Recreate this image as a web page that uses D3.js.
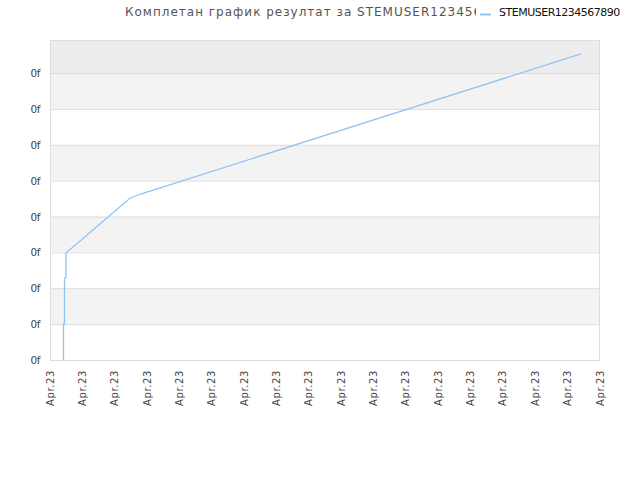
<!DOCTYPE html>
<html><head><meta charset="utf-8">
<script src="https://cdn.jsdelivr.net/npm/d3@7"></script>
<style>body{margin:0;background:#fff}svg{display:block;font-family:"DejaVu Sans",sans-serif}</style>
</head><body><svg id="c" width="640" height="480"></svg>
<script>
const title = "Комплетан график резултат за STEMUSER1234567890";
const seriesName = "STEMUSER1234567890";
// x: days since start of period, y: score
const xDays = [0.736, 0.736, 0.736, 0.79, 0.79, 0.87, 0.87, 4.36, 4.9, 28.96];
const yVals = [0, 0.5, 1.0, 1.0, 2.28, 2.3, 2.98, 4.51, 4.62, 8.53];
const yTickValues = [0,1,2,3,4,5,6,7,8];
const yTickLabel = "0f";
const xTickLabel = "Apr.23";
const xTickCount = 18;

const svg = d3.select("#c");
const L=50,R=600,T=40,B=360;
const x = d3.scaleLinear().domain([0,30]).range([L,R]);
const y = d3.scaleLinear().domain([0,8.92]).range([B,T]);

// bands
const bandEdges = yTickValues.concat([8.92]);
for (let i=0;i<bandEdges.length-1;i++){
  let fill = (i===bandEdges.length-2) ? "#ededed" : (i%2===1 ? "#f3f3f3" : "#ffffff");
  svg.append("rect").attr("x",L).attr("y",y(bandEdges[i+1])).attr("width",R-L)
    .attr("height",y(bandEdges[i])-y(bandEdges[i+1])).attr("fill",fill);
}
// grid
svg.selectAll("line.g").data(yTickValues.slice(1)).enter().append("line")
  .attr("x1",L).attr("x2",R).attr("y1",d=>y(d)+0.5).attr("y2",d=>y(d)+0.5)
  .attr("stroke","#dddddd");
// frame
svg.append("rect").attr("x",L+0.5).attr("y",T+0.5).attr("width",R-L-1).attr("height",B-T)
  .attr("fill","none").attr("stroke","#dddddd");

// line
const pts = xDays.map((d,i)=>[d,yVals[i]]);
svg.append("path").datum(pts).attr("fill","none").attr("stroke","#90c4f5").attr("stroke-width",1.3)
  .attr("d", d3.line().x(d=>x(d[0])).y(d=>y(d[1])));

// y labels
svg.selectAll("text.yl").data(yTickValues).enter().append("text")
  .attr("x",40).attr("y",d=>y(d)+4).attr("text-anchor","end")
  .attr("font-size",10.5).attr("fill","#444").attr("letter-spacing","-0.5").text(yTickLabel);

// x labels
const xt = d3.range(xTickCount).map(i=>i*30/(xTickCount-1));
svg.selectAll("text.xl").data(xt).enter().append("text")
  .attr("transform",d=>`translate(${x(d)+3.5},370) rotate(-90)`)
  .attr("text-anchor","end").attr("font-size",10).attr("letter-spacing","0.6")
  .attr("fill","#444").text(xTickLabel);

// title
svg.append("text").attr("x",125).attr("y",16).attr("font-size",12).attr("fill","#555")
  .attr("letter-spacing","1").text(title);
// legend
svg.append("rect").attr("x",476).attr("y",0).attr("width",164).attr("height",26).attr("fill","#fff");
svg.append("line").attr("x1",480).attr("x2",491).attr("y1",14.5).attr("y2",14.5)
  .attr("stroke","#90c4f5").attr("stroke-width",2);
svg.append("text").attr("x",499).attr("y",16).attr("font-size",11).attr("fill","#111")
  .attr("letter-spacing","-0.5").text(seriesName);
</script></body></html>
